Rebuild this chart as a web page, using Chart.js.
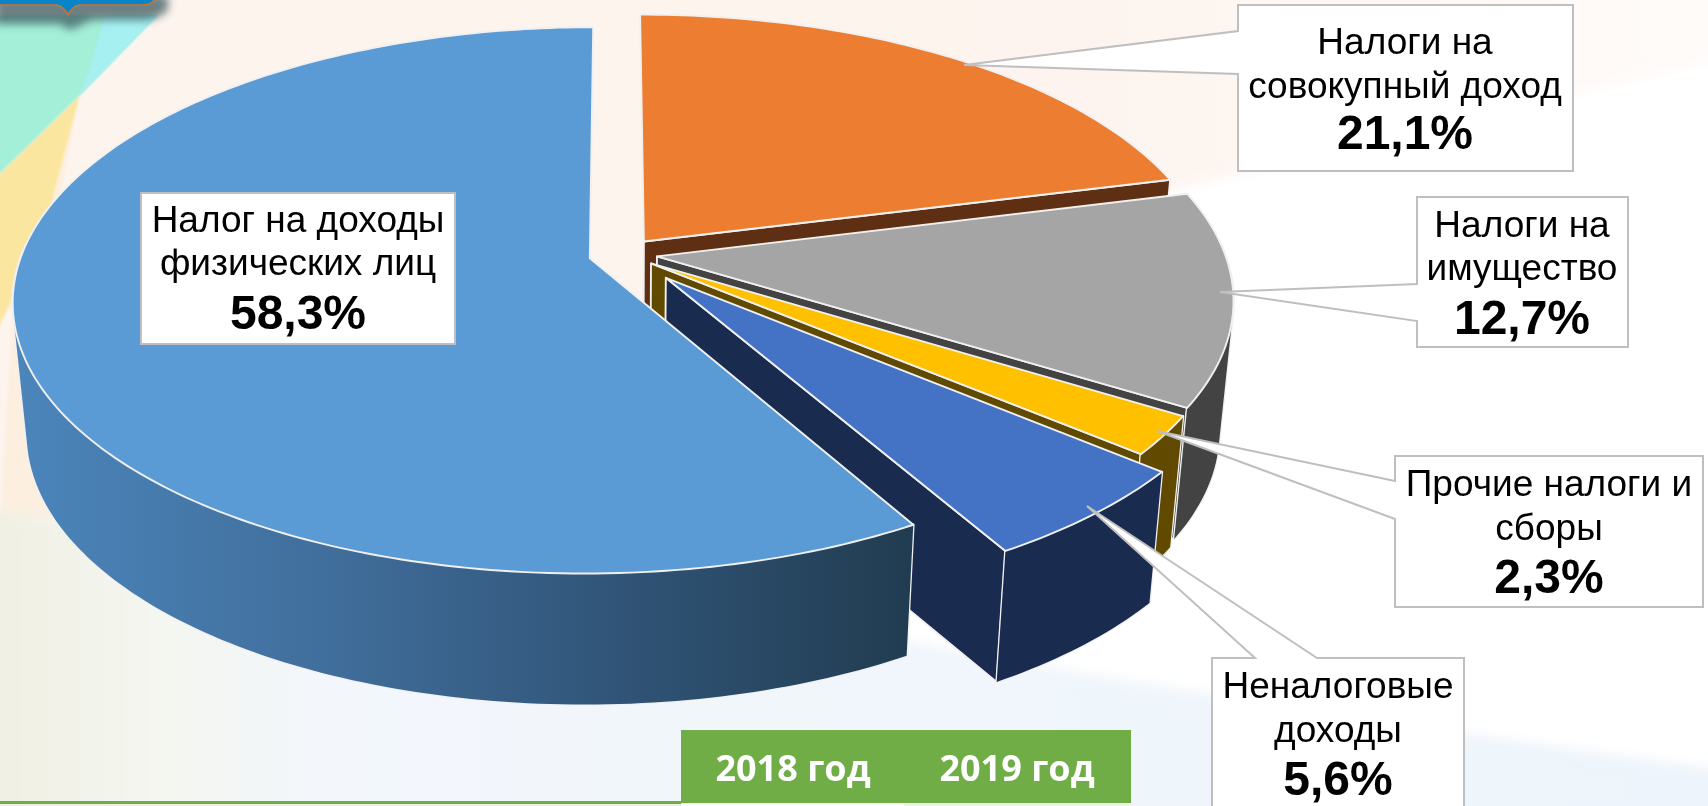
<!DOCTYPE html>
<html lang="ru">
<head>
<meta charset="utf-8">
<style>
html,body{margin:0;padding:0;width:1708px;height:806px;overflow:hidden;background:#fff}
#bg{position:absolute;left:0;top:0}
#c{position:absolute;left:0;top:0}
</style>
<script src="https://cdn.jsdelivr.net/npm/chart.js@4"></script>
</head>
<body>
<svg id="bg" width="1708" height="806" viewBox="0 0 1708 806">
  <defs>
    <linearGradient id="low" gradientUnits="userSpaceOnUse" x1="0" x2="1708" y1="0" y2="0">
      <stop offset="0" stop-color="#f1f0e3"/><stop offset=".1" stop-color="#f4f6f1"/><stop offset=".2" stop-color="#f3f7fc"/><stop offset="1" stop-color="#edf4fb"/>
    </linearGradient>
    <linearGradient id="peach" gradientUnits="userSpaceOnUse" x1="0" x2="1708" y1="0" y2="0">
      <stop offset="0" stop-color="#fdf4ee"/><stop offset=".65" stop-color="#fdf4ef"/><stop offset=".85" stop-color="#fef8f5"/><stop offset="1" stop-color="#fffbf9"/>
    </linearGradient>
    <filter id="blur" x="-20%" y="-20%" width="140%" height="140%"><feGaussianBlur stdDeviation="4"/></filter>
    <filter id="soft" x="-20%" y="-20%" width="140%" height="140%"><feGaussianBlur stdDeviation="1"/></filter>
    <filter id="wide" x="-5%" y="-5%" width="110%" height="110%"><feGaussianBlur stdDeviation="6"/></filter>
  </defs>
  <rect width="1708" height="806" fill="#ffffff"/>
  <path d="M-40 -40H1760V50C1560 95 1350 150 1235 175C1000 230 600 380 300 430L130 505H-40Z" fill="url(#peach)" filter="url(#wide)"/>
  <path d="M0 320L80 95L0 175Z M80 95L12 320L0 520H60L40 300Z" fill="#fdefe0" filter="url(#soft)"/>
  <path d="M-5 178L80 95L48 215L12 300L-5 335Z" fill="#fbe6a0" filter="url(#soft)"/>
  <path d="M-5 15H158L80 95L-5 178Z" fill="#a3efd8" filter="url(#soft)"/>
  <path d="M105 15H158L80 95L92 62Z" fill="#a6f0f2" filter="url(#soft)"/>
  <path d="M-40 503C200 540 600 590 900 640C1200 696 1500 740 1760 775V850H-40Z" fill="url(#low)" filter="url(#wide)"/>
  <path d="M-5 -5H168V10Q160 18 146 20H92L70 30L60 24H-5Z" fill="#3d5a60" opacity=".75" filter="url(#blur)"/>
  <path d="M-2 -2H155Q153 5 142 5H80Q72 6 68 15Q64 6 56 5H-2Z" fill="#0a84c8" stroke="#d0702e" stroke-width="1.5"/>
</svg>
<canvas id="c" width="1708" height="806"></canvas>
<script>
// ---- values ----
const categories = ['Налог на доходы физических лиц','Налоги на совокупный доход','Налоги на имущество','Прочие налоги и сборы','Неналоговые доходы'];
const shares = [58.3, 21.1, 12.7, 2.3, 5.6];
const labelLines = [['Налог на доходы','физических лиц'],['Налоги на','совокупный доход'],['Налоги на','имущество'],['Прочие налоги и','сборы'],['Неналоговые','доходы']];
const tableHeaders = ['2018 год','2019 год'];
const explode = [23, 23, 23, 23, 44];

// ---- styles ----
const topColors = ['#5B9BD5','#ED7D31','#A5A5A5','#FFC000','#4472C4'];
const wallColors = [null,'#5e2f12','#434343','#614a00','#192b4e'];
const edgeColor = '#f0f0f0';
const drawOrder = [1,2,3,4,0];

// ---- 3D perspective view of the pie ----
const view = {x0:623, y0:254, sx:568, sy:265.4, persp:.154, depth:131, bottomScale:.977};
const project = (u,v)=>{const d=1+view.persp*v;return [view.x0+view.sx*u/d, view.y0-view.sy*v/d];};
const drop = p=>[view.x0+(p[0]-view.x0)*view.bottomScale, p[1]+view.depth];

// ---- callout layout: box, wedge, text baselines ----
const callouts = [
 {box:[141,193,455,344], cx:298, base:[232,275,329]},
 {box:[1238,5,1573,171], cx:1405, base:[54,98,149], side:'left', tip:[964,65], a:31, b:74},
 {box:[1417,197,1628,347], cx:1522, base:[237,280,334], side:'left', tip:[1220,292], a:284, b:321},
 {box:[1395,456,1703,607], cx:1549, base:[496,540,593], side:'left', tip:[1157,431], a:481, b:519},
 {box:[1212,658,1464,830], cx:1338, base:[698,742,795], side:'top', tip:[1087,506], a:1255, b:1317}
];

function addPoly(ctx,pts){
  pts.forEach((p,i)=>i?ctx.lineTo(p[0],p[1]):ctx.moveTo(p[0],p[1]));
  ctx.closePath();
}
function sameTurn(pts){
  let s=0;
  pts.forEach((p,i)=>{const q=pts[(i+1)%pts.length];s+=p[0]*q[1]-q[0]*p[1];});
  return s<0?pts.slice().reverse():pts;
}
function poly(ctx,pts,fill,stroke){
  ctx.beginPath();addPoly(ctx,pts);
  ctx.fillStyle=fill;ctx.fill();
  if(stroke){ctx.strokeStyle=stroke;ctx.lineWidth=1.9;ctx.lineJoin='round';ctx.stroke();}
}

const pie3d = {
  id:'pie3d',
  beforeDatasetsDraw(chart){
    const ctx=chart.ctx, arcs=chart.getDatasetMeta(0).data;
    const wallGrad=ctx.createLinearGradient(20,0,915,0);
    wallGrad.addColorStop(0,'#4b85ba');wallGrad.addColorStop(.33,'#416f9d');
    wallGrad.addColorStop(.7,'#2f5274');wallGrad.addColorStop(1,'#213c50');
    ctx.save();
    drawOrder.forEach(i=>{
      const a=arcs[i], R=a.outerRadius, off=a.options.offset, mid=(a.startAngle+a.endAngle)/2;
      const u0=Math.cos(mid)*off/R, v0=-Math.sin(mid)*off/R;
      const steps=Math.max(2,Math.ceil((a.endAngle-a.startAngle)*180/Math.PI));
      const rim=[], facing=[];
      for(let k=0;k<=steps;k++){
        const t=a.startAngle+(a.endAngle-a.startAngle)*k/steps;
        rim.push(project(u0+Math.cos(t),v0-Math.sin(t)));
        facing.push(-Math.sin(t)<0.06);
      }
      const apex=project(u0,v0), wall=wallColors[i]||wallGrad;
      const rimLow=rim.map(drop), apexLow=drop(apex);
      // flat side walls, only those turned toward the viewer
      if(Math.cos(a.startAngle)<-0.01) poly(ctx,[apex,rim[0],rimLow[0],apexLow],wall,edgeColor);
      if(-Math.cos(a.endAngle)<-0.01) poly(ctx,[apex,rim[steps],rimLow[steps],apexLow],wall,edgeColor);
      // curved outer wall: one path of same-turning quads, so it has no seams and a straight silhouette
      ctx.beginPath();
      let any=false;
      for(let k=0;k<steps;k++) if(facing[k]&&facing[k+1]){addPoly(ctx,sameTurn([rim[k],rim[k+1],rimLow[k+1],rimLow[k]]));any=true;}
      if(any){
        ctx.lineJoin='round';
        ctx.strokeStyle=edgeColor;ctx.lineWidth=2.6;ctx.stroke();
        ctx.fillStyle=wall;ctx.fill();
      }
      poly(ctx,[apex].concat(rim),topColors[i],edgeColor);
    });
    ctx.restore();
    return false;
  },
  afterDraw(chart){
    const ctx=chart.ctx;
    ctx.save();
    // table header
    ctx.fillStyle='#eaf1e2';ctx.fillRect(0,803,1129,3);
    ctx.fillStyle='#ffffff';ctx.fillRect(681,804,223,2);
    ctx.fillStyle='#70AD47';ctx.fillRect(0,801,681,3);ctx.fillRect(681,730,450,73);
    ctx.fillStyle='#ffffff';ctx.textAlign='center';ctx.textBaseline='alphabetic';
    ctx.font='bold 36px "Open Sans"';
    ctx.fillText(tableHeaders[0],793,781);
    ctx.fillText(tableHeaders[1],1017,781);
    // callouts
    callouts.forEach((c,i)=>{
      const [l,t,r,b]=c.box;
      let pts;
      if(c.side==='left') pts=[[l,t],[r,t],[r,b],[l,b],[l,c.b],c.tip,[l,c.a]];
      else if(c.side==='top') pts=[[l,t],[c.a,t],c.tip,[c.b,t],[r,t],[r,b],[l,b]];
      else pts=[[l,t],[r,t],[r,b],[l,b]];
      ctx.beginPath();addPoly(ctx,pts);
      ctx.fillStyle='#fff';ctx.fill();
      ctx.strokeStyle='#bfbfbf';ctx.lineWidth=2;ctx.lineJoin='miter';ctx.stroke();
      ctx.fillStyle='#000';
      ctx.font='37px "Liberation Sans"';
      ctx.fillText(labelLines[i][0],c.cx,c.base[0]);
      ctx.fillText(labelLines[i][1],c.cx,c.base[1]);
      ctx.font='bold 48px "Liberation Sans"';
      ctx.fillText(shares[i].toFixed(1).replace('.',',')+'%',c.cx,c.base[2]);
    });
    ctx.restore();
  }
};

new Chart(document.getElementById('c'),{
  type:'pie',
  data:{labels:categories,datasets:[{data:shares,backgroundColor:topColors,borderWidth:0,offset:explode}]},
  options:{responsive:false,animation:false,rotation:150,
    plugins:{legend:{display:false},tooltip:{enabled:false}}},
  plugins:[pie3d]
});
</script>
</body>
</html>
